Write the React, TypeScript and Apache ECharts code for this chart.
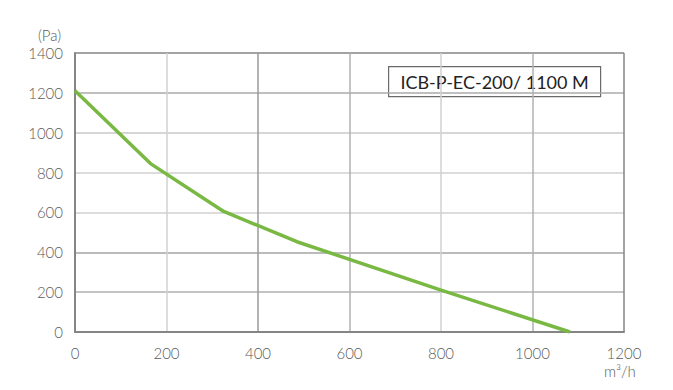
import React, { useEffect, useRef } from "react";
import * as echarts from "echarts";

const flow = [0, 165, 325, 485, 800, 1082];
const pressure = [1210, 845, 605, 453, 210, 0];
const xTicks = [0, 200, 400, 600, 800, 1000, 1200];
const yTicks = [0, 200, 400, 600, 800, 1000, 1200, 1400];
const modelName = "ICB-P-EC-200/ 1100 M";
const yUnit = "(Pa)";
const xUnit = "m³/h";

const FONT = "Lato, 'Open Sans', sans-serif";

export default function App() {
  const ref = useRef<HTMLDivElement>(null);
  useEffect(() => {
    document.body.style.margin = "0";
    const chart = echarts.init(ref.current!, undefined, { renderer: "svg" });
    chart.setOption({
      animation: false,
      backgroundColor: "#ffffff",
      grid: { left: 75, right: 49, top: 53, bottom: 58, containLabel: false },
      xAxis: {
        type: "value",
        min: xTicks[0],
        max: xTicks[xTicks.length - 1],
        interval: 200,
        axisLine: { show: true, lineStyle: { color: "#858585", width: 2 } },
        axisTick: { show: false },
        axisLabel: {
          color: "#5a5a5a",
          fontSize: 15,
          fontFamily: FONT,
          fontWeight: 300,
          margin: 13,
          formatter: (v: number) => String(v),
        },
        splitLine: {
          show: true,
          lineStyle: { color: ["#999", "#d0d0d0", "#9a9a9a", "#b0b0b0", "#d0d0d0", "#b0b0b0", "#858585"], width: 1.5 },
        },
      },
      yAxis: {
        type: "value",
        min: yTicks[0],
        max: yTicks[yTicks.length - 1],
        interval: 200,
        axisLine: { show: true, lineStyle: { color: "#858585", width: 2 } },
        axisTick: { show: false },
        axisLabel: {
          color: "#5a5a5a",
          fontSize: 15,
          fontFamily: FONT,
          fontWeight: 300,
          margin: 12,
          formatter: (v: number) => String(v),
        },
        splitLine: {
          show: true,
          lineStyle: { color: ["#999", "#b0b0b0", "#a5a5a5", "#d0d0d0", "#d0d0d0", "#c8c8c8", "#aaaaaa", "#858585"], width: 1.5 },
        },
      },
      graphic: [
        { type: "text", left: 38, top: 27, style: { text: yUnit, fill: "#5a5a5a", font: `300 15px ${FONT}` } },
        {
          type: "text",
          left: 604,
          top: 363,
          style: { text: xUnit, fill: "#5a5a5a", font: `300 15px ${FONT}` },
        },
        {
          type: "group",
          left: 388,
          top: 66,
          children: [
            { type: "rect", shape: { x: 0, y: 0, width: 212, height: 30 }, style: { fill: "#fff", stroke: "#6a6a6a", lineWidth: 1.2 } },
            {
              type: "text",
              x: 106,
              y: 15,
              style: { text: modelName, fill: "#222", font: `18px ${FONT}`, align: "center", verticalAlign: "middle" },
            },
          ],
        },
      ],
      series: [
        {
          type: "line",
          data: flow.map((f, i) => [f, pressure[i]]),
          showSymbol: false,
          lineStyle: { color: "#79b843", width: 3.5 },
          z: 3,
        },
      ],
    });
    return () => chart.dispose();
  }, []);
  return <div ref={ref} style={{ width: 673, height: 390 }} />;
}
